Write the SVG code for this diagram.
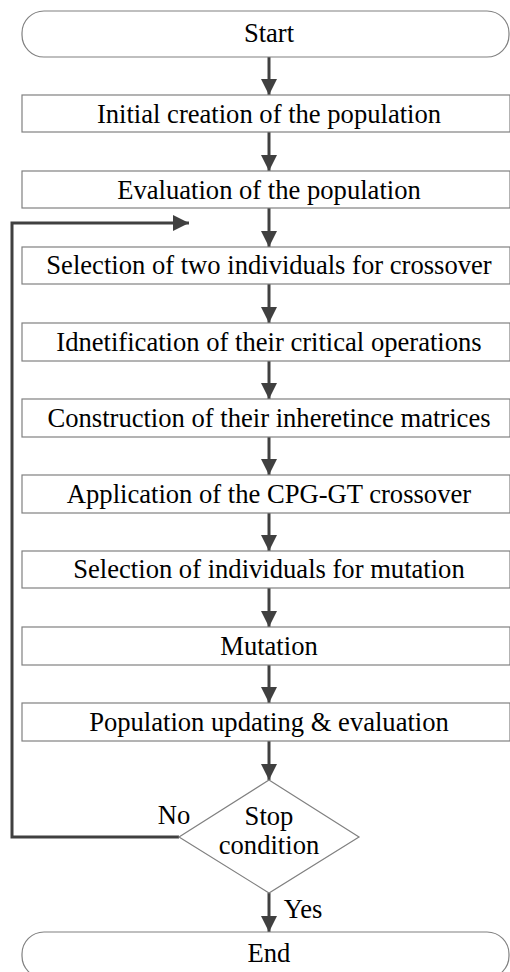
<svg xmlns="http://www.w3.org/2000/svg" width="510" height="972" viewBox="0 0 510 972">
<defs>
<marker id="ah" markerWidth="16" markerHeight="16" viewBox="0 0 16 16" refX="16" refY="8" orient="auto" markerUnits="userSpaceOnUse">
<path d="M0,0 L16,8 L0,16 Z" fill="#404040"/>
</marker>
<style>
.box{fill:#fff;stroke:#808080;stroke-width:1.2}
.t{font-family:'Liberation Serif','Times New Roman',serif;font-size:26.6px;fill:#000;text-anchor:middle}
.c{fill:none;stroke:#404040;stroke-width:3}
</style>
</defs>
<rect width="510" height="972" fill="#fff"/>
<g id="connectors">
<line class="c" x1="269" y1="57" x2="269" y2="95" marker-end="url(#ah)"/>
<line class="c" x1="269" y1="132" x2="269" y2="171" marker-end="url(#ah)"/>
<line class="c" x1="269" y1="208" x2="269" y2="247" marker-end="url(#ah)"/>
<line class="c" x1="269" y1="284" x2="269" y2="323" marker-end="url(#ah)"/>
<line class="c" x1="269" y1="361" x2="269" y2="399" marker-end="url(#ah)"/>
<line class="c" x1="269" y1="437" x2="269" y2="475" marker-end="url(#ah)"/>
<line class="c" x1="269" y1="513" x2="269" y2="551" marker-end="url(#ah)"/>
<line class="c" x1="269" y1="588" x2="269" y2="627" marker-end="url(#ah)"/>
<line class="c" x1="269" y1="665" x2="269" y2="703" marker-end="url(#ah)"/>
<line class="c" x1="269" y1="741" x2="269" y2="780" marker-end="url(#ah)"/>
<line class="c" x1="269" y1="893" x2="269" y2="932" marker-end="url(#ah)"/>
<polyline class="c" points="179,837 12,837 12,223 189,223" marker-end="url(#ah)"/>
<text class="t" x="174" y="824">No</text>
<text class="t" x="303" y="918">Yes</text>
</g>
<g id="start"><rect class="box" x="22" y="11" width="487" height="46" rx="22"/><text class="t" x="269" y="42">Start</text></g>
<g id="init"><rect class="box" x="22" y="95" width="488" height="37"/><text class="t" x="269" y="123">Initial creation of the population</text></g>
<g id="eval"><rect class="box" x="22" y="171" width="488" height="37"/><text class="t" x="269" y="199">Evaluation of the population</text></g>
<g id="sel2"><rect class="box" x="22" y="247" width="488" height="37"/><text class="t" x="269" y="274">Selection of two individuals for crossover</text></g>
<g id="ident"><rect class="box" x="22" y="323" width="488" height="38"/><text class="t" x="269" y="351">Idnetification of their critical operations</text></g>
<g id="constr"><rect class="box" x="22" y="399" width="488" height="38"/><text class="t" x="269" y="427">Construction of their inheretince matrices</text></g>
<g id="apply"><rect class="box" x="22" y="475" width="488" height="38"/><text class="t" x="269" y="503">Application of the CPG-GT crossover</text></g>
<g id="selmut"><rect class="box" x="22" y="551" width="488" height="37"/><text class="t" x="269" y="578">Selection of individuals for mutation</text></g>
<g id="mut"><rect class="box" x="22" y="627" width="488" height="38"/><text class="t" x="269" y="655">Mutation</text></g>
<g id="upd"><rect class="box" x="22" y="703" width="488" height="38"/><text class="t" x="269" y="731">Population updating &amp; evaluation</text></g>
<g id="stop"><polygon class="box" points="269,780 359,837 269,893 179,837"/><text class="t" x="269" y="825">Stop</text><text class="t" x="269" y="854">condition</text></g>
<g id="end"><rect class="box" x="22" y="932" width="487" height="46" rx="22"/><text class="t" x="269" y="962">End</text></g>
</svg>
